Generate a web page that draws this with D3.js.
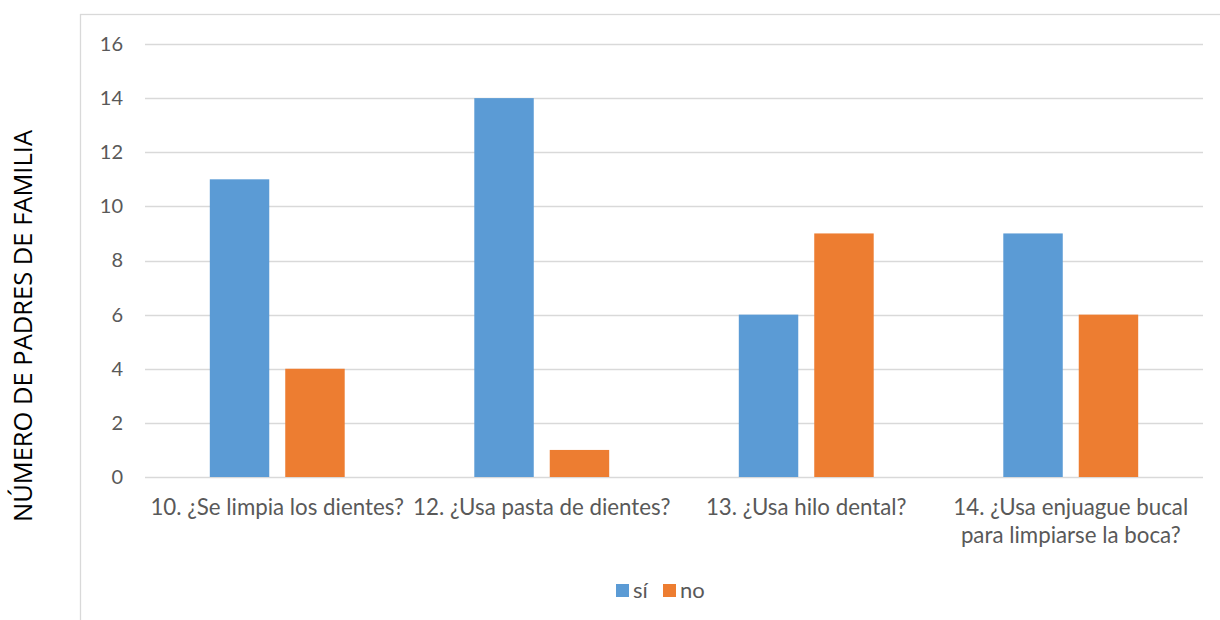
<!DOCTYPE html>
<html>
<head>
<meta charset="utf-8">
<script src="https://cdn.jsdelivr.net/npm/d3@7"></script>
<style>
  html, body { margin: 0; padding: 0; background: #fff; }
  svg { display: block; }
</style>
</head>
<body>
<svg id="chart" width="1220" height="620"></svg>
<script>
// Survey answers per question
const categories = [
  ["10. ¿Se limpia los dientes?"],
  ["12. ¿Usa pasta de dientes?"],
  ["13. ¿Usa hilo dental?"],
  ["14. ¿Usa enjuague bucal", "para limpiarse la boca?"]
];
const seriesNames = ["sí", "no"];
const siValues = [11, 14, 6, 9];
const noValues = [4, 1, 9, 6];
const yTicks = [0, 2, 4, 6, 8, 10, 12, 14, 16];
const yTitle = "NÚMERO DE PADRES DE FAMILIA";

const colors = { "sí": "#5B9BD5", "no": "#ED7D31" };
const labelFont = "Lato, 'Open Sans', sans-serif";

const svg = d3.select("#chart");

// Chart frame
svg.append("rect")
  .attr("x", 80.5).attr("y", 14.5)
  .attr("width", 1160).attr("height", 640)
  .attr("fill", "none").attr("stroke", "#D9D9D9").attr("stroke-width", 1.3);

const plot = { left: 145, right: 1203, top: 44, bottom: 477 };

const x0 = d3.scaleBand()
  .domain(d3.range(categories.length))
  .range([plot.left, plot.right])
  .paddingInner(0).paddingOuter(0);

const groupWidth = x0.bandwidth() * 0.51;
const x1 = d3.scaleBand()
  .domain(seriesNames)
  .range([0, groupWidth])
  .paddingInner(0.212);

const y = d3.scaleLinear().domain([0, 16]).range([plot.bottom, plot.top]);

// Horizontal gridlines
svg.append("g")
  .selectAll("line")
  .data(yTicks)
  .join("line")
  .attr("x1", plot.left).attr("x2", plot.right)
  .attr("y1", d => Math.round(y(d)) + 0.5)
  .attr("y2", d => Math.round(y(d)) + 0.5)
  .attr("stroke", "#D9D9D9").attr("stroke-width", 1.3);

// Y axis tick labels
const yAxis = d3.axisLeft(y).tickValues(yTicks).tickSize(0).tickPadding(0);
const yg = svg.append("g")
  .attr("transform", `translate(${plot.left - 22},0)`)
  .call(yAxis);
yg.select(".domain").remove();
yg.selectAll("text")
  .attr("fill", "#595959")
  .attr("font-family", labelFont)
  .attr("font-size", "20px");

// Bars
const rows = categories.map((c, i) => ({ i, values: [
  { key: "sí", value: siValues[i] },
  { key: "no", value: noValues[i] }
]}));

const groups = svg.append("g")
  .selectAll("g")
  .data(rows)
  .join("g")
  .attr("transform", d => `translate(${x0(d.i) + (x0.bandwidth() - groupWidth) / 2},0)`);

groups.selectAll("rect")
  .data(d => d.values)
  .join("rect")
  .attr("x", d => x1(d.key))
  .attr("width", x1.bandwidth())
  .attr("y", d => y(d.value))
  .attr("height", d => y(0) - y(d.value))
  .attr("fill", d => colors[d.key]);

// Category labels
const catG = svg.append("g");
categories.forEach((lines, i) => {
  const cx = x0(i) + x0.bandwidth() / 2;
  const t = catG.append("text")
    .attr("text-anchor", "middle")
    .attr("fill", "#595959")
    .attr("font-family", labelFont)
    .attr("font-size", "22.3px");
  lines.forEach((ln, k) => {
    t.append("tspan")
      .attr("x", cx)
      .attr("y", 515 + k * 28)
      .text(ln);
  });
});

// Y axis title
svg.append("text")
  .attr("transform", "translate(32,326) rotate(-90)")
  .attr("text-anchor", "middle")
  .attr("fill", "#000")
  .attr("font-family", "'Open Sans', sans-serif")
  .attr("font-size", "25.5px")
  .text(yTitle);

// Legend
const legend = svg.append("g").attr("transform", "translate(616,584)");
const legendItems = [
  { key: "sí", x: 0 },
  { key: "no", x: 47 }
];
legendItems.forEach(it => {
  legend.append("rect")
    .attr("x", it.x).attr("y", 0)
    .attr("width", 13).attr("height", 13)
    .attr("fill", colors[it.key]);
  legend.append("text")
    .attr("x", it.x + 17).attr("y", 14)
    .attr("fill", "#595959")
    .attr("font-family", labelFont)
    .attr("font-size", "22px")
    .text(it.key);
});
</script>
</body>
</html>
